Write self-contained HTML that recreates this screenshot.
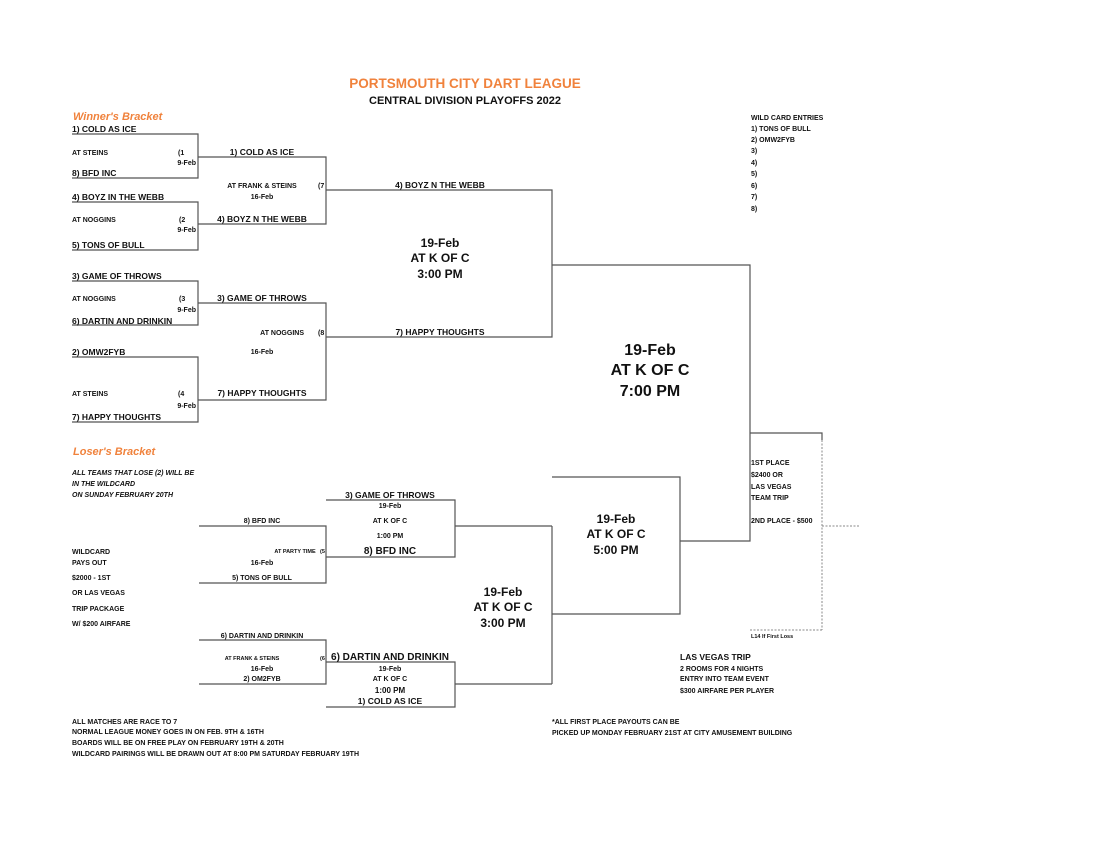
<!DOCTYPE html>
<html><head><meta charset="utf-8"><style>
html,body{margin:0;padding:0;background:#fff;}
svg{display:block;font-family:"Liberation Sans",Arial,sans-serif;font-weight:bold;}
</style></head><body>
<svg width="1099" height="850" viewBox="0 0 1099 850" xmlns="http://www.w3.org/2000/svg">
<g stroke="#555" stroke-width="1.2" fill="none">
<polyline points="72,134 198,134 198,178 72,178"/>
<polyline points="72,202 198,202 198,250 72,250"/>
<polyline points="72,281 198,281 198,325 72,325"/>
<polyline points="72,357 198,357 198,422 72,422"/>
<polyline points="198,157 326,157 326,224 198,224"/>
<polyline points="198,303 326,303 326,400 198,400"/>
<polyline points="326,190 552,190 552,337 326,337"/>
<polyline points="552,265 750,265 750,541 680,541"/>
<polyline points="199,526 326,526 326,583 199,583"/>
<polyline points="199,640 326,640 326,684 199,684"/>
<polyline points="326,500 455,500 455,557 326,557"/>
<polyline points="326,662 455,662 455,707 326,707"/>
<line x1="455" y1="526" x2="552" y2="526"/>
<line x1="455" y1="684" x2="552" y2="684"/>
<line x1="552" y1="526" x2="552" y2="684"/>
<polyline points="552,477 680,477 680,614 552,614"/>
<polyline points="750,433 822,433 822,440"/>
</g>
<g stroke="#888" stroke-width="1" fill="none" stroke-dasharray="2,1.5">
<line x1="822" y1="440" x2="822" y2="630"/>
<line x1="750" y1="630" x2="822" y2="630"/>
<line x1="822" y1="526" x2="860" y2="526"/>
</g>

<text x="465" y="88" text-anchor="middle" fill="#f0823c" font-size="13.5">PORTSMOUTH CITY DART LEAGUE</text>
<text x="465" y="104" text-anchor="middle" fill="#111" font-size="11">CENTRAL DIVISION PLAYOFFS  2022</text>

<g fill="#f0823c" font-size="11" font-style="italic">
<text x="73" y="120">Winner's Bracket</text>
<text x="73" y="455">Loser's Bracket</text>
</g>

<g fill="#111" font-size="8.5">
<text x="72" y="132">1) COLD AS ICE</text>
<text x="72" y="176">8) BFD INC</text>
<text x="72" y="200">4) BOYZ IN THE WEBB</text>
<text x="72" y="248">5) TONS OF BULL</text>
<text x="72" y="279">3) GAME OF THROWS</text>
<text x="72" y="324">6) DARTIN AND DRINKIN</text>
<text x="72" y="355">2) OMW2FYB</text>
<text x="72" y="420">7) HAPPY THOUGHTS</text>
<text x="262" y="155" text-anchor="middle">1) COLD AS ICE</text>
<text x="262" y="222" text-anchor="middle">4) BOYZ N THE WEBB</text>
<text x="262" y="301" text-anchor="middle">3) GAME OF THROWS</text>
<text x="262" y="396" text-anchor="middle">7) HAPPY THOUGHTS</text>
<text x="440" y="188" text-anchor="middle">4) BOYZ N THE WEBB</text>
<text x="440" y="335" text-anchor="middle">7) HAPPY THOUGHTS</text>
<text x="390" y="498" text-anchor="middle">3) GAME OF THROWS</text>
<text x="390" y="704" text-anchor="middle">1) COLD AS ICE</text>
<text x="680" y="660">LAS VEGAS TRIP</text>
</g>
<g fill="#111" font-size="10">
<text x="390" y="554" text-anchor="middle">8) BFD INC</text>
<text x="390" y="660" text-anchor="middle">6) DARTIN AND DRINKIN</text>
</g>
<g fill="#111" font-size="7">
<text x="72" y="155">AT  STEINS</text><text x="178" y="155">(1</text><text x="196" y="165" text-anchor="end">9-Feb</text>
<text x="72" y="222">AT NOGGINS</text><text x="179" y="222">(2</text><text x="196" y="232" text-anchor="end">9-Feb</text>
<text x="72" y="301">AT NOGGINS</text><text x="179" y="301">(3</text><text x="196" y="312" text-anchor="end">9-Feb</text>
<text x="72" y="396">AT STEINS</text><text x="178" y="396">(4</text><text x="196" y="408" text-anchor="end">9-Feb</text>
<text x="262" y="188" text-anchor="middle">AT FRANK &amp; STEINS</text><text x="318" y="188">(7</text>
<text x="262" y="199" text-anchor="middle">16-Feb</text>
<text x="304" y="335" text-anchor="end">AT NOGGINS</text><text x="318" y="335">(8</text>
<text x="262" y="354" text-anchor="middle">16-Feb</text>
<text x="262" y="523" text-anchor="middle">8) BFD INC</text>
<text x="262" y="580" text-anchor="middle">5) TONS OF BULL</text>
<text x="262" y="638" text-anchor="middle">6) DARTIN AND DRINKIN</text>
<text x="262" y="681" text-anchor="middle">2) OM2FYB</text>
<text x="262" y="565" text-anchor="middle">16-Feb</text>
<text x="262" y="671" text-anchor="middle">16-Feb</text>
<text x="390" y="508" text-anchor="middle">19-Feb</text>
<text x="390" y="523" text-anchor="middle">AT K OF C</text>
<text x="390" y="538" text-anchor="middle">1:00 PM</text>
<text x="390" y="671" text-anchor="middle">19-Feb</text>
<text x="390" y="681" text-anchor="middle">AT K OF C</text>
<text x="390" y="693" font-size="8" text-anchor="middle">1:00 PM</text>
<g font-style="italic">
<text x="72" y="475">ALL TEAMS THAT LOSE (2) WILL BE</text>
<text x="72" y="486">IN THE WILDCARD</text>
<text x="72" y="497">ON SUNDAY FEBRUARY 20TH</text>
</g>
<text x="72" y="554">WILDCARD</text>
<text x="72" y="565">PAYS OUT</text>
<text x="72" y="580">$2000 - 1ST</text>
<text x="72" y="595">OR LAS VEGAS</text>
<text x="72" y="611">TRIP PACKAGE</text>
<text x="72" y="626">W/ $200 AIRFARE</text>
<text x="72" y="724">ALL MATCHES ARE  RACE TO 7</text>
<text x="72" y="734">NORMAL LEAGUE MONEY GOES IN ON FEB. 9TH &amp; 16TH</text>
<text x="72" y="745">BOARDS WILL BE ON FREE PLAY ON FEBRUARY 19TH &amp; 20TH</text>
<text x="72" y="756">WILDCARD PAIRINGS WILL BE DRAWN OUT AT 8:00 PM SATURDAY FEBRUARY 19TH</text>
<text x="552" y="724">*ALL FIRST PLACE PAYOUTS CAN BE</text>
<text x="552" y="735">PICKED UP MONDAY FEBRUARY 21ST AT CITY AMUSEMENT BUILDING</text>
<text x="680" y="671">2 ROOMS FOR 4 NIGHTS</text>
<text x="680" y="681">ENTRY INTO TEAM EVENT</text>
<text x="680" y="693">$300 AIRFARE PER PLAYER</text>
<text x="751" y="465">1ST PLACE</text>
<text x="751" y="477">$2400 OR</text>
<text x="751" y="489">LAS VEGAS</text>
<text x="751" y="500">TEAM TRIP</text>
<text x="751" y="523">2ND PLACE - $500</text>
<text x="751" y="120">WILD CARD ENTRIES</text>
<text x="751" y="131">1) TONS OF BULL</text>
<text x="751" y="142">2) OMW2FYB</text>
<text x="751" y="153">3)</text>
<text x="751" y="165">4)</text>
<text x="751" y="176">5)</text>
<text x="751" y="188">6)</text>
<text x="751" y="199">7)</text>
<text x="751" y="211">8)</text>
</g>
<g fill="#111" font-size="5.5">
<text x="295" y="553" text-anchor="middle">AT PARTY TIME</text><text x="320" y="553">(5</text>
<text x="252" y="660" text-anchor="middle">AT FRANK &amp; STEINS</text><text x="320" y="660">(6</text>
<text x="751" y="638">L14 If First Loss</text>
</g>
<g fill="#111" font-size="12" text-anchor="middle">
<text x="440" y="247">19-Feb</text>
<text x="440" y="262">AT K OF C</text>
<text x="440" y="278">3:00 PM</text>
<text x="503" y="596">19-Feb</text>
<text x="503" y="611">AT K OF C</text>
<text x="503" y="627">3:00 PM</text>
<text x="616" y="523">19-Feb</text>
<text x="616" y="538">AT K OF C</text>
<text x="616" y="554">5:00 PM</text>
</g>
<g fill="#111" font-size="16" text-anchor="middle">
<text x="650" y="355">19-Feb</text>
<text x="650" y="375">AT K OF C</text>
<text x="650" y="396">7:00 PM</text>
</g>
</svg>
</body></html>
